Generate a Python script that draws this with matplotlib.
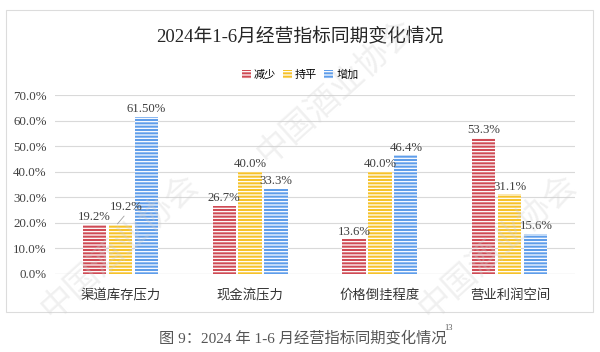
import numpy as np
import matplotlib
matplotlib.use("Agg")
import matplotlib.pyplot as plt
from matplotlib.patches import Patch, Rectangle

plt.rcParams['font.family'] = ['Liberation Serif', 'Noto Sans CJK SC']
plt.rcParams['hatch.linewidth'] = 0.9

categories = ['渠道库存压力', '现金流压力', '价格倒挂程度', '营业利润空间']
series = ['减少', '持平', '增加']
decrease = [19.2, 26.7, 13.6, 53.3]
flat = [19.2, 40.0, 40.0, 31.1]
increase = [61.5, 33.3, 46.4, 15.6]
labels = [['19.2%', '26.7%', '13.6%', '53.3%'],
          ['19.2%', '40.0%', '40.0%', '31.1%'],
          ['61.50%', '33.3%', '46.4%', '15.6%']]
colors = ['#CF4A54', '#F6C22A', '#5E9DEA']

fig = plt.figure(figsize=(6, 3.52), dpi=100)
ax = fig.add_axes([0.092, 0.222, 0.866, 0.508])

x = np.arange(len(categories))
w = 0.178
step = 0.2
for i, vals in enumerate([decrease, flat, increase]):
    pos = x + (i - 1) * step
    ax.bar(pos, vals, width=w, color=colors[i], edgecolor='white',
           linewidth=0, hatch='-----', zorder=3)
    for j, v in enumerate(vals):
        dx, dy = 0, 0.6
        if i == 1 and j == 0:
            dx, dy = 0.05, 4.5
        ax.text(pos[j] + dx, v + dy, labels[i][j], ha='center', va='bottom',
                fontsize=9.2, color='#404040', zorder=4)

# leader line for the shifted label
ax.plot([x[0] - 0.02, x[0] + 0.03], [19.6, 22.6], color='#a0a0a0', lw=0.6, zorder=4)

ax.set_xlim(-0.5, 3.5)
ax.set_ylim(0, 70)
ax.set_yticks(np.arange(0, 71, 10))
ax.set_yticklabels(['%.1f%%' % t for t in np.arange(0, 71, 10)], fontsize=9.3, color='#404040')
ax.set_xticks(x)
ax.set_xticklabels(categories, fontsize=9.6, color='#333333')
ax.tick_params(axis='both', length=0)
ax.tick_params(axis='x', pad=11)
ax.tick_params(axis='y', pad=6)
ax.grid(axis='y', color='#d9d9d9', lw=0.8, zorder=0)
for s in ax.spines.values():
    s.set_visible(False)
ax.axhline(0, color='#d0d0d0', lw=0.8, zorder=2)

fig.text(0.5, 0.897, '2024年1-6月经营指标同期变化情况', ha='center', va='center',
         fontsize=13.5, color='#262626')

handles = [Patch(facecolor=c, edgecolor='white', linewidth=0, hatch='-----') for c in colors]
fig.legend(handles, series, loc='center', bbox_to_anchor=(0.5, 0.787), ncol=3,
           frameon=False, fontsize=8, handlelength=0.8, handleheight=0.9,
           handletextpad=0.3, columnspacing=0.6)

fig.patches.append(Rectangle((0.01, 0.114), 0.978, 0.858, transform=fig.transFigure,
                             fill=False, edgecolor='#dcdcdc', lw=0.8))

cap = fig.text(0.265, 0.04, '图 9：2024 年 1-6 月经营指标同期变化情况', ha='left', va='center',
               fontsize=11, color='#555555')
fig.canvas.draw()
bb = cap.get_window_extent().transformed(fig.transFigure.inverted())
fig.text(bb.x1 - 0.004, 0.068, '13', ha='left', va='center', fontsize=6, color='#555555')

# watermark
for (wx, wy) in [(0.2, 0.3), (0.56, 0.74), (0.83, 0.3)]:
    fig.text(wx, wy, '中国酒业协会', ha='center', va='center', rotation=42,
             fontsize=24, color='#cfcfcf', alpha=0.3, zorder=10)

fig.savefig('out.png', dpi=100)
